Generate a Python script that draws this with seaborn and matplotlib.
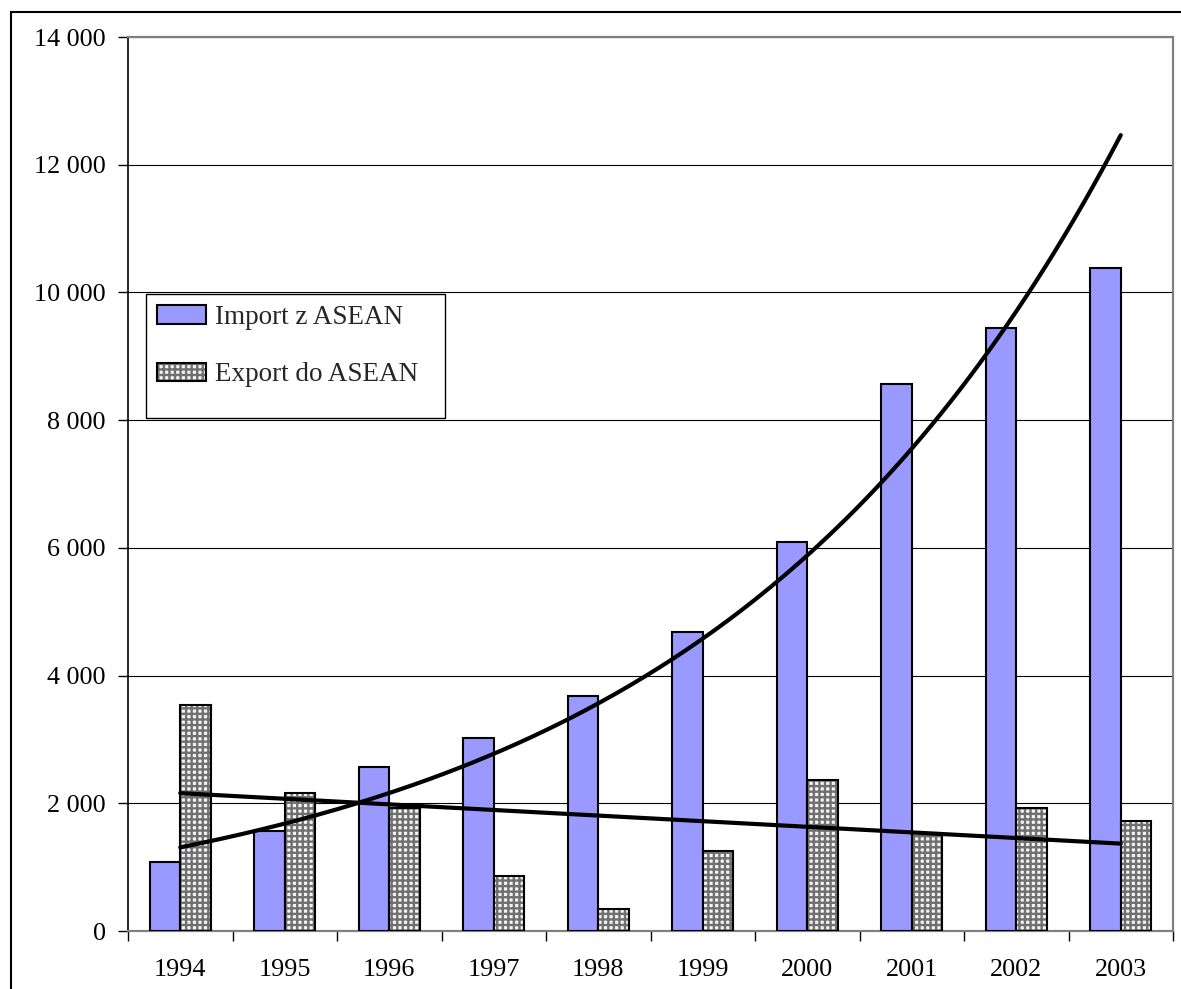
import numpy as np
import pandas as pd
import matplotlib
matplotlib.use('Agg')
import matplotlib.pyplot as plt
import matplotlib.ticker as mticker
import matplotlib.colors as mcolors
from matplotlib.patches import Rectangle
import seaborn as sns

# values
years = ['1994', '1995', '1996', '1997', '1998', '1999', '2000', '2001', '2002', '2003']
import_vals = [1085, 1560, 2570, 3020, 3680, 4680, 6085, 8570, 9450, 10390]
export_vals = [3535, 2165, 1925, 860, 345, 1255, 2365, 1535, 1920, 1730]
series_names = ['Import z ASEAN', 'Export do ASEAN']

sns.set_theme(style='white')
plt.rcParams['font.family'] = ['Liberation Serif', 'DejaVu Serif']
plt.rcParams['hatch.linewidth'] = 1.7
plt.rcParams['hatch.color'] = '#707070'

df = pd.DataFrame({
    'year': years * 2,
    'value': import_vals + export_vals,
    'series': [series_names[0]] * len(years) + [series_names[1]] * len(years),
})

fig = plt.figure(figsize=(11.81, 9.89), dpi=100)
ax = fig.add_axes([128 / 1181, 58 / 989, 1045 / 1181, 894 / 989])

sns.barplot(data=df, x='year', y='value', hue='series',
            palette=['#9999ff', '#f4f4f4'], saturation=1,
            width=0.58, edgecolor='black', linewidth=1.5,
            errorbar=None, ax=ax, zorder=3)

# checkered pattern on export bars
hatch_rgba = mcolors.to_rgba('#707070')
for p in ax.containers[1]:
    p.set_hatch('+++')
    if hasattr(p, 'set_hatchcolor'):
        p.set_hatchcolor(hatch_rgba)
    else:
        p._hatch_color = hatch_rgba

# trend lines (exponential for import, linear for export)
xpos = np.arange(len(years))
b, ln_a = np.polyfit(xpos, np.log(import_vals), 1)
xs = np.linspace(xpos[0], xpos[-1], 200)
ax.plot(xs, np.exp(ln_a + b * xs), color='black', lw=3, zorder=4)
m, c = np.polyfit(xpos, export_vals, 1)
ax.plot(xpos, m * xpos + c, color='black', lw=3, zorder=4)

# axes styling
ax.set_ylim(0, 14000)
ax.set_xlim(-0.5, len(years) - 0.5)
ax.set_yticks(np.arange(0, 14001, 2000))
ax.yaxis.set_major_formatter(mticker.FuncFormatter(lambda v, _: f'{int(v):,}'.replace(',', ' ')))
ax.set_axisbelow(True)
ax.yaxis.grid(True, color='black', lw=0.8)
ax.xaxis.grid(False)
ax.set_xlabel('')
ax.set_ylabel('')

ax.set_xticks(np.arange(-0.5, len(years), 1), minor=True)
ax.tick_params(axis='x', which='major', length=0, pad=20, labelsize=18.8, labelcolor='black')
ax.tick_params(axis='x', which='minor', bottom=True, length=7, width=1, color='black', direction='out')
ax.tick_params(axis='y', which='major', left=True, length=7, width=1, color='black',
               direction='out', pad=9, labelsize=18.8, labelcolor='black')

ax.spines['left'].set_color('black')
ax.spines['left'].set_linewidth(1.2)
for side in ['top', 'right', 'bottom']:
    ax.spines[side].set_color('#808080')
    ax.spines[side].set_linewidth(1.6)

# legend with Excel-like box
ax.get_legend().remove()
lx0, ltop = (146 - 128) / 1045, (931 - 294) / 894
lw_, lh_ = 299 / 1045, 124 / 894
ax.add_patch(Rectangle((lx0, ltop - lh_), lw_, lh_, transform=ax.transAxes,
                       facecolor='white', edgecolor='black', lw=1, zorder=5))
leg = ax.legend([ax.containers[0], ax.containers[1]], series_names,
                loc='upper left', bbox_to_anchor=(lx0, ltop),
                borderaxespad=0, borderpad=0.4, frameon=False, fontsize=19.5,
                handlelength=1.8, handleheight=0.68, handletextpad=0.35,
                labelspacing=1.2)
leg.set_zorder(6)

# outer chart border
fig.add_artist(Rectangle((11 / 1181, -0.1), 1.2, 1 - 12 / 989 + 0.1,
                         transform=fig.transFigure, fill=False,
                         edgecolor='black', lw=1.5))

fig.savefig('out.png', dpi=100)
